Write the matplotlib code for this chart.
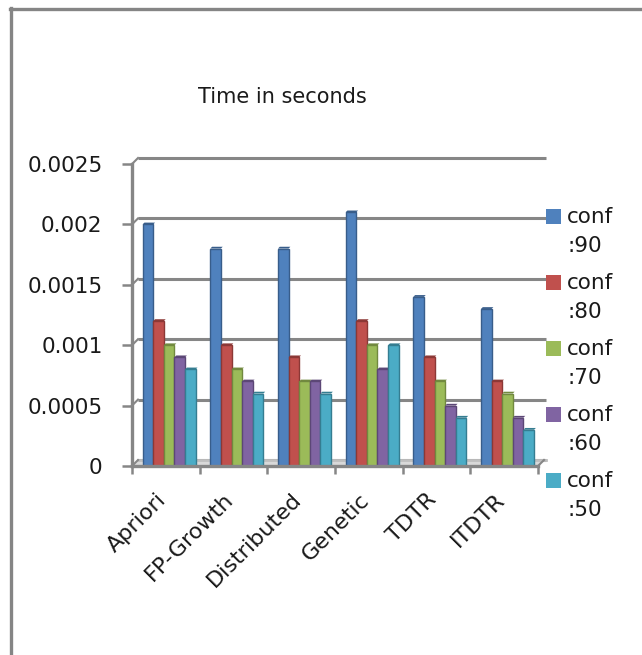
import matplotlib
matplotlib.use("Agg")
import matplotlib.pyplot as plt
from matplotlib.patches import Rectangle, Polygon
from matplotlib.lines import Line2D
import matplotlib.transforms as mtransforms

# ---- data ----
categories = ["Apriori", "FP-Growth", "Distributed", "Genetic", "TDTR", "ITDTR"]
series_names = ["conf :90", "conf :80", "conf :70", "conf :60", "conf :50"]
conf90 = [0.0020, 0.0018, 0.0018, 0.0021, 0.0014, 0.0013]
conf80 = [0.0012, 0.0010, 0.0009, 0.0012, 0.0009, 0.0007]
conf70 = [0.0010, 0.0008, 0.0007, 0.0010, 0.0007, 0.0006]
conf60 = [0.0009, 0.0007, 0.0007, 0.0008, 0.0005, 0.0004]
conf50 = [0.0008, 0.0006, 0.0006, 0.0010, 0.0004, 0.0003]
series_values = [conf90, conf80, conf70, conf60, conf50]
yticks = [0, 0.0005, 0.001, 0.0015, 0.002, 0.0025]
ytick_labels = ["0", "0.0005", "0.001", "0.0015", "0.002", "0.0025"]
title = "Time in seconds"

colors = ["#4F81BD", "#C0504D", "#9BBB59", "#8064A2", "#4BACC6"]
edge_colors = ["#385D8A", "#8C3836", "#71893F", "#5C4776", "#357D91"]
GRAY = "#868686"
FS = 15.5

W, H = 642, 655
fig = plt.figure(figsize=(W / 100, H / 100), dpi=100)
fig.patch.set_facecolor("white")

def fx(x):
    return x / W

def fy(y):
    return 1 - y / H

# outer border (left and top only visible)
fig.add_artist(Line2D([fx(11), fx(11)], [fy(8), 0], color="#858585", lw=2.4,
                      transform=fig.transFigure))
fig.add_artist(Line2D([fx(10), 1], [fy(9), fy(9)], color="#858585", lw=2.4,
                      transform=fig.transFigure))

ax = fig.add_axes([fx(132), fy(466), (538 - 132) / W, (466 - 164) / H])
ax.set_xlim(0, len(categories))
ax.set_ylim(0, 0.0025)
ax.set_facecolor("none")

# 3D depth offset (pixels -> points)
DX, DY = 6, 6
off = mtransforms.ScaledTranslation(DX / 100, DY / 100, fig.dpi_scale_trans)
back = ax.transData + off
x0, x1 = 0, len(categories)

# gridlines on back wall
for v in yticks:
    ax.plot([x0, x1 + 0.03], [v, v], color=GRAY, lw=2.2, transform=back,
            clip_on=False, zorder=1, solid_capstyle="butt")
# connectors between front axis and back wall
bbox = ax.get_window_extent()
ddx = DX / bbox.width * (x1 - x0)
ddy = DY / bbox.height * 0.0025
for v in yticks:
    ax.plot([0, ddx], [v, v + ddy], color=GRAY, lw=1.5, clip_on=False, zorder=2)
ax.plot([x1, x1 + ddx], [0, ddy], color=GRAY, lw=1.5, clip_on=False, zorder=2)
# floor
ax.add_patch(Polygon([(0, 0), (x1, 0), (x1 + ddx, ddy), (ddx, ddy)], closed=True,
                     facecolor="#d9d9d9", edgecolor="none", zorder=1.5, clip_on=False))
ax.plot([x0, x1 + 0.03], [0, 0], color="#bfbfbf", lw=2.0, transform=back,
        clip_on=False, zorder=1.6)

# bars
w = 0.157
start = 0.157
for k, (vals, c, ec) in enumerate(zip(series_values, colors, edge_colors)):
    xs = [i + start + w * (k + 0.5) for i in range(len(categories))]
    ax.bar(xs, vals, width=w, color=c, edgecolor=ec, linewidth=1.0, zorder=3)
    # small top face for 3D look
    for x, v in zip(xs, vals):
        ax.add_patch(Polygon([(x - w / 2, v), (x + w / 2, v),
                              (x + w / 2 + ddx * 0.3, v + ddy * 0.3),
                              (x - w / 2 + ddx * 0.3, v + ddy * 0.3)],
                             closed=True, facecolor=ec, edgecolor="none",
                             zorder=3, clip_on=False))

# spines
for s in ["top", "right"]:
    ax.spines[s].set_visible(False)
for s in ["left", "bottom"]:
    ax.spines[s].set_color(GRAY)
    ax.spines[s].set_linewidth(2.4)
    ax.spines[s].set_zorder(4)

ax.set_yticks(yticks)
ax.set_yticklabels(ytick_labels, fontsize=FS, color="#1a1a1a")
ax.tick_params(axis="y", length=7.2, width=1.8, color=GRAY, pad=14)

ax.set_xticks([i + 0.5 for i in range(len(categories))])
ax.set_xticklabels(categories, fontsize=16, rotation=45, ha="right",
                   va="center", rotation_mode="anchor", color="#1a1a1a")
ax.tick_params(axis="x", which="major", length=0, pad=22)
shift = mtransforms.ScaledTranslation(-3 / 100, 0, fig.dpi_scale_trans)
for lbl in ax.get_xticklabels():
    lbl.set_transform(lbl.get_transform() + shift)
ax.set_xticks(range(len(categories) + 1), minor=True)
ax.tick_params(axis="x", which="minor", length=6, width=1.8, color=GRAY)

# title
fig.text(fx(282), fy(97), title, ha="center", va="center", fontsize=15,
         color="#1a1a1a")

# legend (manual, two-line labels)
leg_y = [217, 283, 349, 415, 481]
for name, c, y in zip(series_names, colors, leg_y):
    fig.add_artist(Rectangle((fx(546), fy(y + 7)), 15 / W, 15 / H,
                             facecolor=c, edgecolor="none",
                             transform=fig.transFigure))
    first, second = name.split(" ")
    fig.text(fx(567), fy(y), first, ha="left", va="center", fontsize=FS,
             color="#1a1a1a")
    fig.text(fx(567), fy(y + 29), second, ha="left", va="center", fontsize=FS,
             color="#1a1a1a")

fig.savefig("out.png", dpi=100)
